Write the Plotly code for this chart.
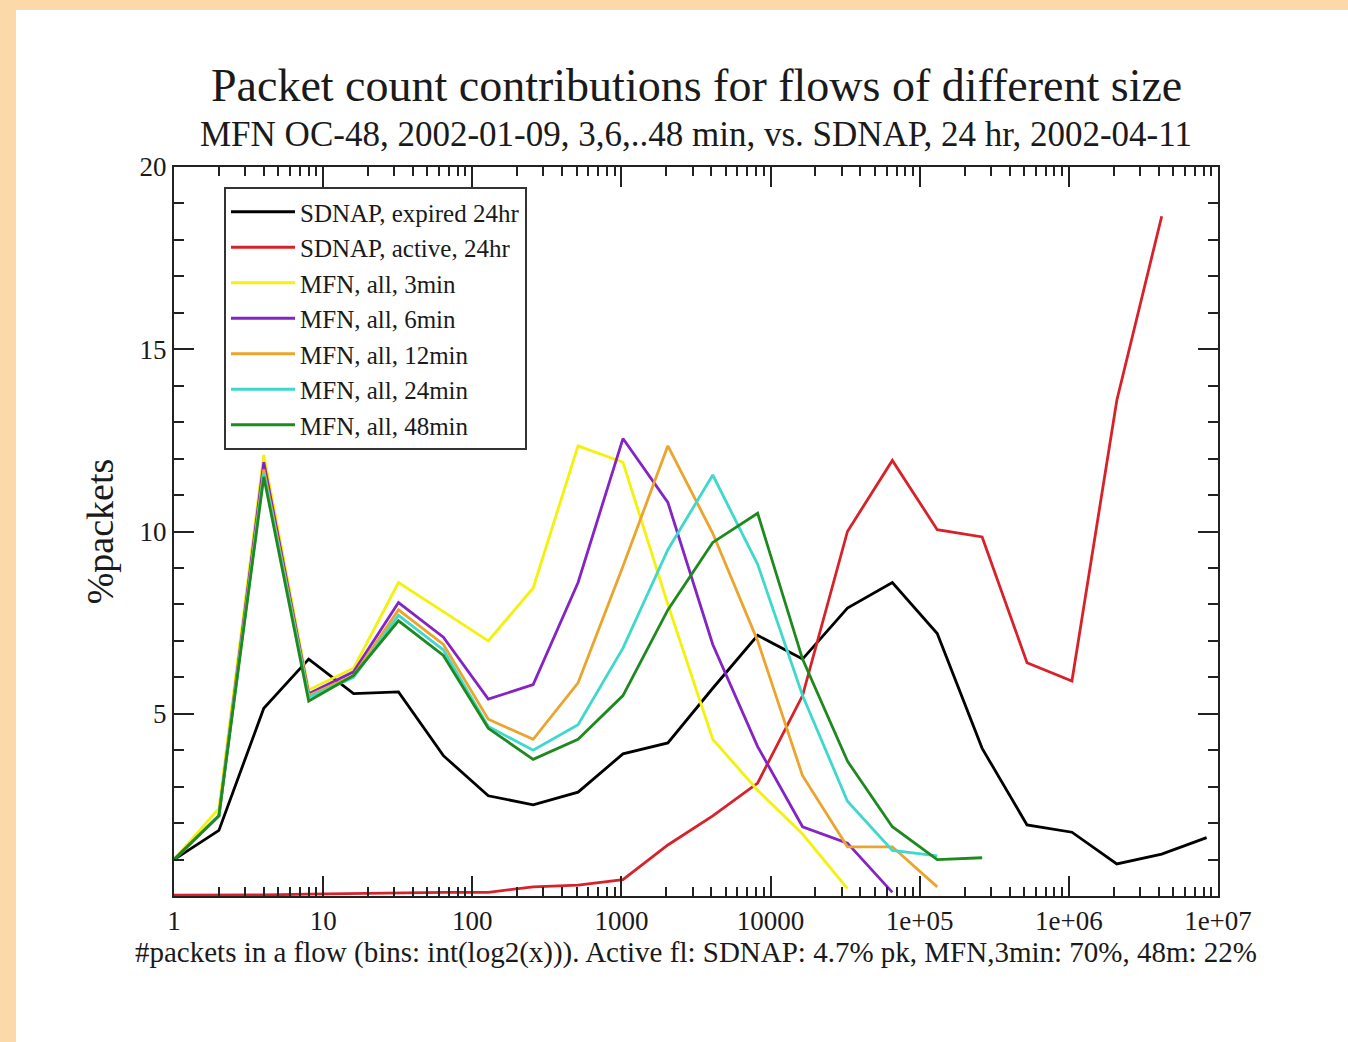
import plotly.graph_objects as go

# ---- data ----
bins = [2 ** k for k in range(24)]  # flow-size bins: 1, 2, 4, ... 2^23

sdnap_expired = [1.0, 1.8, 5.15, 6.5, 5.55, 5.6, 3.85, 2.75, 2.5, 2.85, 3.9, 4.2,
                 5.7, 7.15, 6.5, 7.9, 8.6, 7.2, 4.05, 1.95, 1.75, 0.88, 1.15, 1.6]
sdnap_active = [0.02, 0.02, 0.03, 0.05, 0.07, 0.08, 0.1, 0.1, 0.25, 0.3, 0.45, 1.4,
                2.2, 3.1, 5.5, 10.0, 11.95, 10.05, 9.85, 6.4, 5.9, 13.6, 18.65]
mfn_3 = [1.0, 2.4, 12.1, 5.65, 6.25, 8.6, 7.8, 7.0, 8.45, 12.35, 11.9, 8.0,
         4.3, 2.9, 1.7, 0.2]
mfn_6 = [1.0, 2.2, 11.9, 5.55, 6.15, 8.05, 7.1, 5.4, 5.8, 8.6, 12.55, 10.8,
         6.9, 4.1, 1.9, 1.45, 0.1]
mfn_12 = [1.0, 2.2, 11.7, 5.5, 6.05, 7.85, 6.9, 4.85, 4.3, 5.85, 9.05, 12.35,
          9.95, 7.0, 3.3, 1.35, 1.35, 0.25]
mfn_24 = [1.0, 2.2, 11.6, 5.45, 6.0, 7.7, 6.75, 4.65, 4.0, 4.7, 6.8, 9.5,
          11.55, 9.1, 5.5, 2.6, 1.25, 1.1]
mfn_48 = [1.0, 2.2, 11.5, 5.35, 6.05, 7.55, 6.6, 4.6, 3.75, 4.3, 5.5, 7.85,
          9.7, 10.5, 6.5, 3.7, 1.9, 1.0, 1.05]

series_names = ["SDNAP, expired 24hr", "SDNAP, active, 24hr", "MFN, all, 3min",
                "MFN, all, 6min", "MFN, all, 12min", "MFN, all, 24min", "MFN, all, 48min"]
series_values = [sdnap_expired, sdnap_active, mfn_3, mfn_6, mfn_12, mfn_24, mfn_48]
series_colors = ["#000000", "#D8222A", "#F2F20A", "#8424C4", "#EBA42C", "#3ED8CC", "#1E8A1E"]

x_tickvals = [1, 10, 100, 1000, 10000, 1e5, 1e6, 1e7]
x_ticktext = ["1", "10", "100", "1000", "10000", "1e+05", "1e+06", "1e+07"]
x_minorvals = [m * 10 ** d for d in range(7) for m in range(2, 10)]
y_tickvals = [0, 5, 10, 15, 20]
y_ticktext = ["", "5", "10", "15", "20"]

title_text = "Packet count contributions for flows of different size"
subtitle_text = "MFN OC-48, 2002-01-09, 3,6,..48 min, vs. SDNAP, 24 hr, 2002-04-11"
x_title = "#packets in a flow (bins: int(log2(x))). Active fl: SDNAP: 4.7% pk, MFN,3min: 70%, 48m: 22%"
y_title = "%packets"

FONT = "Liberation Serif, Times New Roman, serif"
INK = "#1a1a1a"

fig = go.Figure()
for i, (name, vals, col) in enumerate(zip(series_names, series_values, series_colors)):
    fig.add_trace(go.Scatter(
        x=bins[:len(vals)], y=vals, mode="lines", name=name,
        line=dict(color=col, width=2.8), legendgroup=f"g{i}",
    ))

W, H = 1348, 1042
L, R, T, B = 174, 130, 167, 146
pw, ph = W - L - R, H - T - B

def px_x(p):
    return (p - L) / pw

def px_y(p):
    return (H - B - p) / ph

fig.update_layout(
    width=W, height=H,
    margin=dict(l=L, r=R, t=T, b=B),
    paper_bgcolor="white", plot_bgcolor="white",
    font=dict(family=FONT, color=INK),
    showlegend=True,
    legend=dict(
        x=px_x(224), y=px_y(187), xanchor="left", yanchor="top",
        bordercolor="#333333", borderwidth=2, bgcolor="white",
        font=dict(family=FONT, size=25, color=INK),
        traceorder="grouped", tracegroupgap=0,
        itemwidth=64,
    ),
    xaxis=dict(
        type="log", range=[0, 7],
        tickmode="array", tickvals=x_tickvals, ticktext=x_ticktext,
        ticks="inside", ticklen=20, tickwidth=1.5, tickcolor="#222222",
        showline=True, linecolor="#222222", linewidth=2, mirror="ticks",
        showgrid=False, zeroline=False,
        tickfont=dict(family=FONT, size=27, color=INK),
        minor=dict(tickmode="array", tickvals=x_minorvals, ticks="inside",
                   ticklen=9, tickwidth=1.5, tickcolor="#222222", showgrid=False),
        title=dict(text=x_title, font=dict(family=FONT, size=29, color=INK), standoff=3),
    ),
    yaxis=dict(
        range=[0, 20],
        tickmode="array", tickvals=y_tickvals, ticktext=y_ticktext,
        ticks="inside", ticklen=20, tickwidth=1.5, tickcolor="#222222",
        showline=True, linecolor="#222222", linewidth=2, mirror="ticks",
        showgrid=False, zeroline=False,
        tickfont=dict(family=FONT, size=27, color=INK),
        minor=dict(dtick=1, ticks="inside", ticklen=10, tickwidth=1.5,
                   tickcolor="#222222", showgrid=False),
        title=dict(text=y_title, font=dict(family=FONT, size=38, color=INK), standoff=14),
    ),
    annotations=[
        dict(text=title_text, xref="paper", yref="paper", x=0.5, y=px_y(85),
             xanchor="center", yanchor="middle", showarrow=False,
             font=dict(family=FONT, size=46, color=INK)),
        dict(text=subtitle_text, xref="paper", yref="paper", x=0.5, y=px_y(134),
             xanchor="center", yanchor="middle", showarrow=False,
             font=dict(family=FONT, size=35, color=INK)),
    ],
    shapes=[
        dict(type="rect", xref="paper", yref="paper", layer="below",
             x0=px_x(0), x1=px_x(16), y0=px_y(H), y1=px_y(0),
             fillcolor="#FCD9A8", line=dict(width=0)),
        dict(type="rect", xref="paper", yref="paper", layer="below",
             x0=px_x(0), x1=px_x(W), y0=px_y(10), y1=px_y(0),
             fillcolor="#FCD9A8", line=dict(width=0)),
    ],
)

fig.write_html("out.html")
